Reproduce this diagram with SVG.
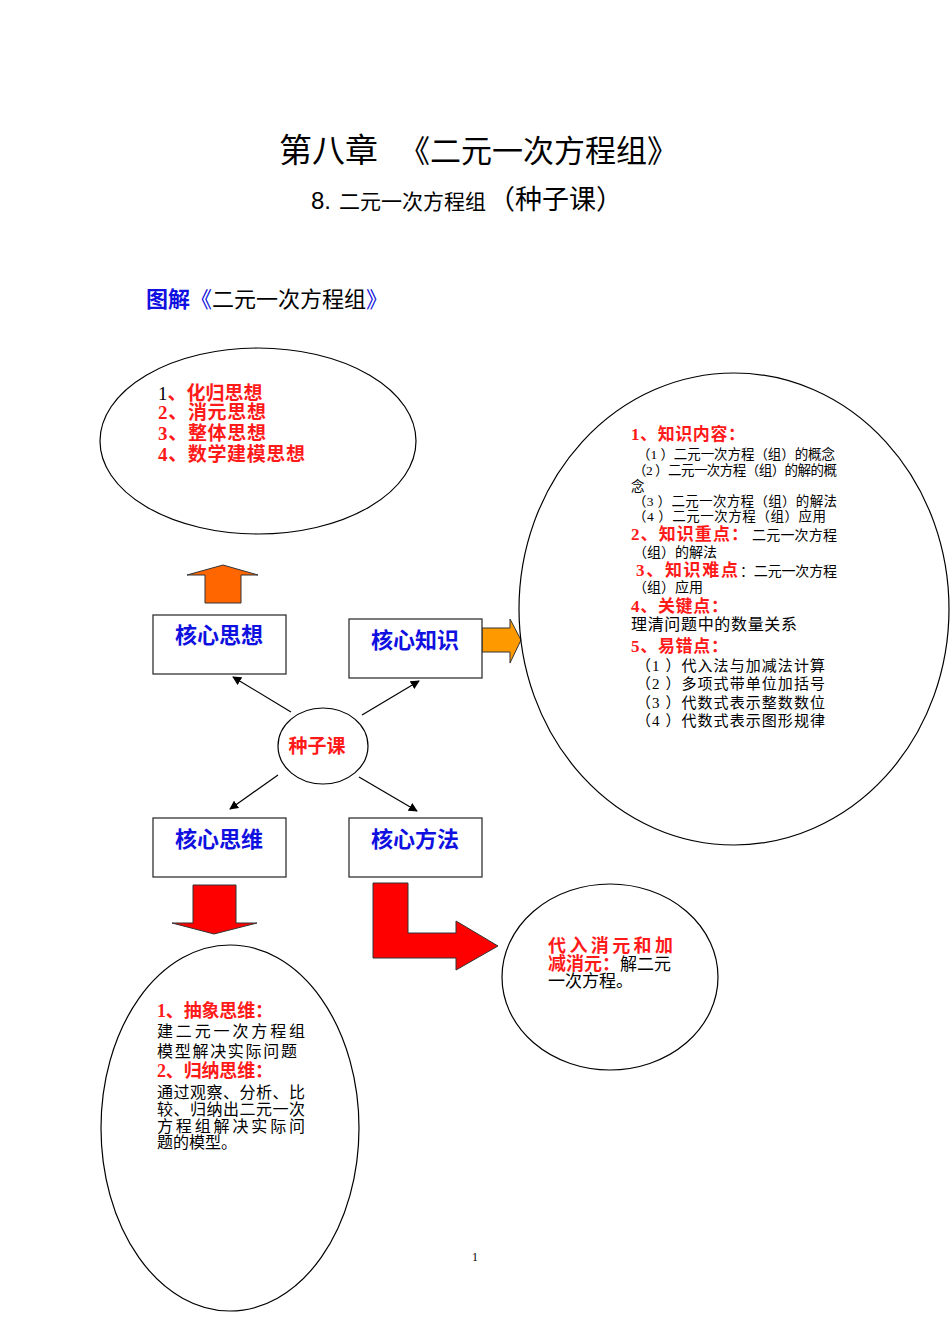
<svg xmlns="http://www.w3.org/2000/svg" width="950" height="1344" viewBox="0 0 950 1344">
<style>
.sans{font-family:"Liberation Sans","Noto Sans CJK SC",sans-serif}
.ser{font-family:"Liberation Serif","Noto Sans CJK SC",serif}
.red{fill:#ff1a1a;font-weight:bold}
.blue{fill:#1010e0;font-weight:bold}
.ell{fill:none;stroke:#000;stroke-width:1.2}
.box{fill:#fff;stroke:#333;stroke-width:1.3}
.con{stroke:#000;stroke-width:1.2;fill:none;marker-end:url(#ah)}
</style>
<defs>
<marker id="ah" viewBox="0 0 10 10" refX="9" refY="5" markerWidth="9" markerHeight="9" markerUnits="userSpaceOnUse" orient="auto">
<path d="M0,0 L10,5 L0,10 z" fill="#000"/>
</marker>
</defs>
<rect width="950" height="1344" fill="#fff"/>

<g id="title">
<text class="sans" x="279" y="162" font-size="33" fill="#000">第八章</text>
<text class="sans" x="399" y="162" font-size="31" fill="#000">《二元一次方程组》</text>
<text class="sans" x="311" y="209" font-size="24" fill="#000">8.<tspan x="339" font-size="21">二元一次方程组</tspan><tspan x="488" font-size="27">（种子课）</tspan></text>
<text class="sans" x="146" y="307" font-size="22"><tspan class="blue">图解</tspan><tspan fill="#1010e0">《</tspan><tspan fill="#000">二元一次方程组</tspan><tspan fill="#1010e0">》</tspan></text>
</g>

<g id="connectors">
<line class="con" x1="291" y1="712" x2="233" y2="677"/>
<line class="con" x1="362" y1="715" x2="419" y2="681"/>
<line class="con" x1="278" y1="775" x2="230" y2="809"/>
<line class="con" x1="359" y1="777" x2="417" y2="811"/>
<polygon points="205,603 205,575 187,575 223,565 258,575 241,575 241,603" fill="#ff6600" stroke="#333" stroke-width="1"/>
<polygon points="482,628 510,628 510,619 521,640 510,663 510,652 482,652" fill="#ff9900" stroke="#333" stroke-width="1"/>
<polygon points="193,885 236,885 236,923 257,923 214,934 172,923 193,923" fill="#ff0000" stroke="#333" stroke-width="1"/>
<polygon points="373,883 408,883 408,933 456,933 456,921 498,946 456,970 456,958 373,958" fill="#ff0000" stroke="#333" stroke-width="1"/>
</g>

<g id="node-thoughts">
<ellipse class="ell" cx="258" cy="441" rx="158" ry="93"/>
<text class="ser" font-size="19">
<tspan x="158" y="400"><tspan fill="#000">1</tspan><tspan class="red">、化归思想</tspan></tspan>
<tspan class="red" x="158" y="419" textLength="108">2、消元思想</tspan>
<tspan class="red" x="158" y="440" textLength="108">3、整体思想</tspan>
<tspan class="red" x="158" y="461" textLength="147">4、数学建模思想</tspan>
</text>
</g>

<g id="node-core-thought">
<rect class="box" x="153" y="615" width="133" height="59"/>
<text class="sans blue" x="219" y="643" font-size="22" text-anchor="middle">核心思想</text>
</g>

<g id="node-core-knowledge">
<rect class="box" x="349" y="619" width="133" height="59"/>
<text class="sans blue" x="415" y="648" font-size="22" text-anchor="middle">核心知识</text>
</g>

<g id="node-seed">
<ellipse class="ell" cx="323" cy="746" rx="45" ry="38"/>
<text class="sans red" x="317" y="753" font-size="19" text-anchor="middle">种子课</text>
</g>

<g id="node-core-thinking">
<rect class="box" x="153" y="818" width="133" height="59"/>
<text class="sans blue" x="219" y="847" font-size="22" text-anchor="middle">核心思维</text>
</g>

<g id="node-core-method">
<rect class="box" x="349" y="818" width="133" height="59"/>
<text class="sans blue" x="415" y="847" font-size="22" text-anchor="middle">核心方法</text>
</g>

<g id="node-knowledge">
<ellipse class="ell" cx="734" cy="609" rx="215" ry="236"/>
<text class="ser" font-size="13.5" fill="#000">
<tspan class="red" x="631" y="440" font-size="17" textLength="114">1、知识内容：</tspan>
<tspan x="637" y="459" textLength="198">（1 ）二元一次方程（组）的概念</tspan>
<tspan x="633" y="475" textLength="204">（2 ）二元一次方程（组）的解的概</tspan>
<tspan x="631" y="491">念</tspan>
<tspan x="633" y="506" textLength="204">（3 ）二元一次方程（组）的解法</tspan>
<tspan x="633" y="521" textLength="193">（4 ）二元一次方程（组）应用</tspan>
<tspan class="red" x="631" y="540" font-size="17" textLength="117">2、知识重点：</tspan>
<tspan x="752" y="540" font-size="14" textLength="85">二元一次方程</tspan>
<tspan x="633" y="557" font-size="14">（组）的解法</tspan>
<tspan class="red" x="636" y="576" font-size="17" textLength="102">3、知识难点</tspan>
<tspan x="740" y="576" font-size="14" textLength="97">：二元一次方程</tspan>
<tspan x="633" y="592" font-size="14">（组）应用</tspan>
<tspan class="red" x="631" y="612" font-size="17" textLength="97">4、关键点：</tspan>
<tspan x="631" y="630" font-size="16" textLength="166">理清问题中的数量关系</tspan>
<tspan class="red" x="631" y="652" font-size="17" textLength="97">5、易错点：</tspan>
<tspan x="636" y="671" font-size="15" textLength="189">（1 ）代入法与加减法计算</tspan>
<tspan x="636" y="689" font-size="15" textLength="189">（2 ）多项式带单位加括号</tspan>
<tspan x="636" y="708" font-size="15" textLength="189">（3 ）代数式表示整数数位</tspan>
<tspan x="636" y="726" font-size="15" textLength="189">（4 ）代数式表示图形规律</tspan>
</text>
</g>

<g id="node-thinking">
<ellipse class="ell" cx="230" cy="1128" rx="129" ry="183"/>
<text class="ser" font-size="16" fill="#000">
<tspan class="red" x="157" y="1017" font-size="18" textLength="116">1、抽象思维：</tspan>
<tspan x="157" y="1037" textLength="148">建二元一次方程组</tspan>
<tspan x="157" y="1057" textLength="140">模型解决实际问题</tspan>
<tspan class="red" x="157" y="1077" font-size="18" textLength="116">2、归纳思维：</tspan>
<tspan x="157" y="1098" textLength="148">通过观察、分析、比</tspan>
<tspan x="157" y="1115" textLength="148">较、归纳出二元一次</tspan>
<tspan x="157" y="1132" textLength="148">方程组解决实际问</tspan>
<tspan x="157" y="1148">题的模型。</tspan>
</text>
</g>

<g id="node-method">
<ellipse class="ell" cx="610" cy="977" rx="108" ry="93"/>
<text class="sans" font-size="17" fill="#000">
<tspan class="red" x="548" y="952" font-size="18" textLength="125">代入消元和加</tspan>
<tspan x="548" y="970"><tspan class="red" font-size="18">减消元：</tspan><tspan>解二元</tspan></tspan>
<tspan x="548" y="987">一次方程。</tspan>
</text>
</g>

<text class="ser" x="475" y="1261" font-size="12" fill="#000" text-anchor="middle">1</text>
</svg>
